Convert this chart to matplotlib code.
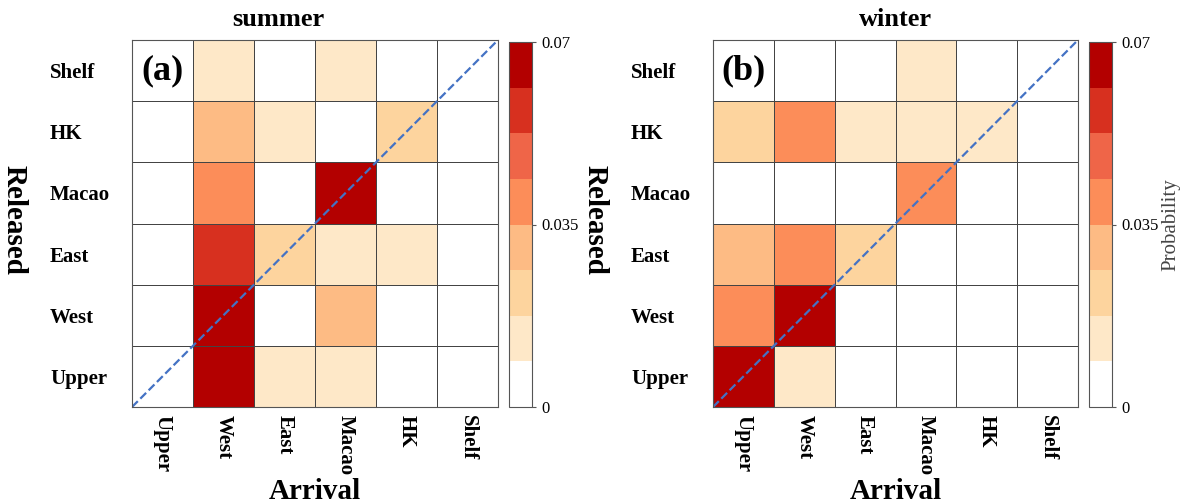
import numpy as np
import matplotlib
matplotlib.use("Agg")
import matplotlib.pyplot as plt
from matplotlib.colors import ListedColormap, BoundaryNorm

plt.rcParams["font.family"] = ["Liberation Serif", "DejaVu Serif"]

# dados
regioes = ["Upper", "West", "East", "Macao", "HK", "Shelf"]

# linhas = liberado (de baixo para cima), colunas = chegada
verao = [
    [0.000, 0.068, 0.013, 0.013, 0.000, 0.000],  # Upper
    [0.000, 0.068, 0.000, 0.030, 0.000, 0.000],  # West
    [0.000, 0.057, 0.022, 0.013, 0.013, 0.000],  # East
    [0.000, 0.039, 0.000, 0.068, 0.000, 0.000],  # Macao
    [0.000, 0.030, 0.013, 0.000, 0.022, 0.000],  # HK
    [0.000, 0.013, 0.000, 0.013, 0.000, 0.000],  # Shelf
]
inverno = [
    [0.068, 0.013, 0.000, 0.000, 0.000, 0.000],  # Upper
    [0.039, 0.068, 0.000, 0.000, 0.000, 0.000],  # West
    [0.030, 0.039, 0.022, 0.000, 0.000, 0.000],  # East
    [0.000, 0.000, 0.000, 0.039, 0.000, 0.000],  # Macao
    [0.022, 0.039, 0.013, 0.013, 0.013, 0.000],  # HK
    [0.000, 0.000, 0.000, 0.013, 0.000, 0.000],  # Shelf
]

titulos = ["summer", "winter"]
letras = ["(a)", "(b)"]

cores = ["#ffffff", "#fee8c8", "#fdd49e", "#fdbb84",
         "#fc8d59", "#ef6548", "#d7301f", "#b30000"]
cmap = ListedColormap(cores)
limites = np.linspace(0, 0.07, 9)
norm = BoundaryNorm(limites, cmap.N, clip=True)

fig = plt.figure(figsize=(11.86, 5.04), dpi=100)


def px(x0, y0, x1, y1):
    # converte pixels (topo-esquerda) para coordenadas da figura
    return [x0 / 1186, 1 - y1 / 504, (x1 - x0) / 1186, (y1 - y0) / 504]


posicoes = [(132, 40, 498, 407), (713, 40, 1078, 407)]
pos_cbar = [(509, 42, 532, 407), (1089, 42, 1112, 407)]
titulo_x = [0.40, 0.50]
rotulo_x = [14, 595]

for k, dados in enumerate([verao, inverno]):
    ax = fig.add_axes(px(*posicoes[k]))
    z = np.array(dados)
    n = len(regioes)
    m = ax.pcolormesh(np.arange(n + 1), np.arange(n + 1), z, cmap=cmap,
                      norm=norm, edgecolor="#444444", linewidth=0.6)
    ax.plot([0, n], [0, n], linestyle="--", color="#4472c4", linewidth=1.6)
    ax.set_xlim(0, n)
    ax.set_ylim(0, n)
    ax.set_xticks(np.arange(n) + 0.5)
    ax.set_yticks(np.arange(n) + 0.5)
    ax.set_xticklabels(regioes, rotation=-90, fontsize=15, fontweight="bold")
    ax.set_yticklabels(regioes, fontsize=15, fontweight="bold", ha="left")
    ax.tick_params(axis="x", length=0, pad=6)
    ax.tick_params(axis="y", length=0, pad=59)
    for lado in ax.spines.values():
        lado.set_color("#555555")
        lado.set_linewidth(0.8)
    ax.text(titulo_x[k], 1.025, titulos[k], transform=ax.transAxes,
            fontsize=19, fontweight="bold", ha="center", va="bottom")
    ax.set_xlabel("Arrival", fontsize=21, fontweight="bold", labelpad=2)
    fig.text(rotulo_x[k] / 1186, 1 - 220 / 504, "Released", fontsize=21,
             fontweight="bold", rotation=-90, ha="center", va="center")
    ax.text(0.5, 5.5, letras[k], fontsize=26, fontweight="bold",
            ha="center", va="center")

    cax = fig.add_axes(px(*pos_cbar[k]))
    cb = fig.colorbar(m, cax=cax, ticks=[0, 0.035, 0.07])
    cb.ax.minorticks_off()
    cb.ax.set_yticklabels(["0", "0.035", "0.07"])
    cb.ax.tick_params(labelsize=12, length=3, width=0.8, color="#555555")
    cb.outline.set_edgecolor("#555555")
    cb.outline.set_linewidth(0.8)
    if k == 1:
        cb.set_label("Probability", fontsize=15, color="#444444", labelpad=2)

fig.savefig("out.png", dpi=100)
